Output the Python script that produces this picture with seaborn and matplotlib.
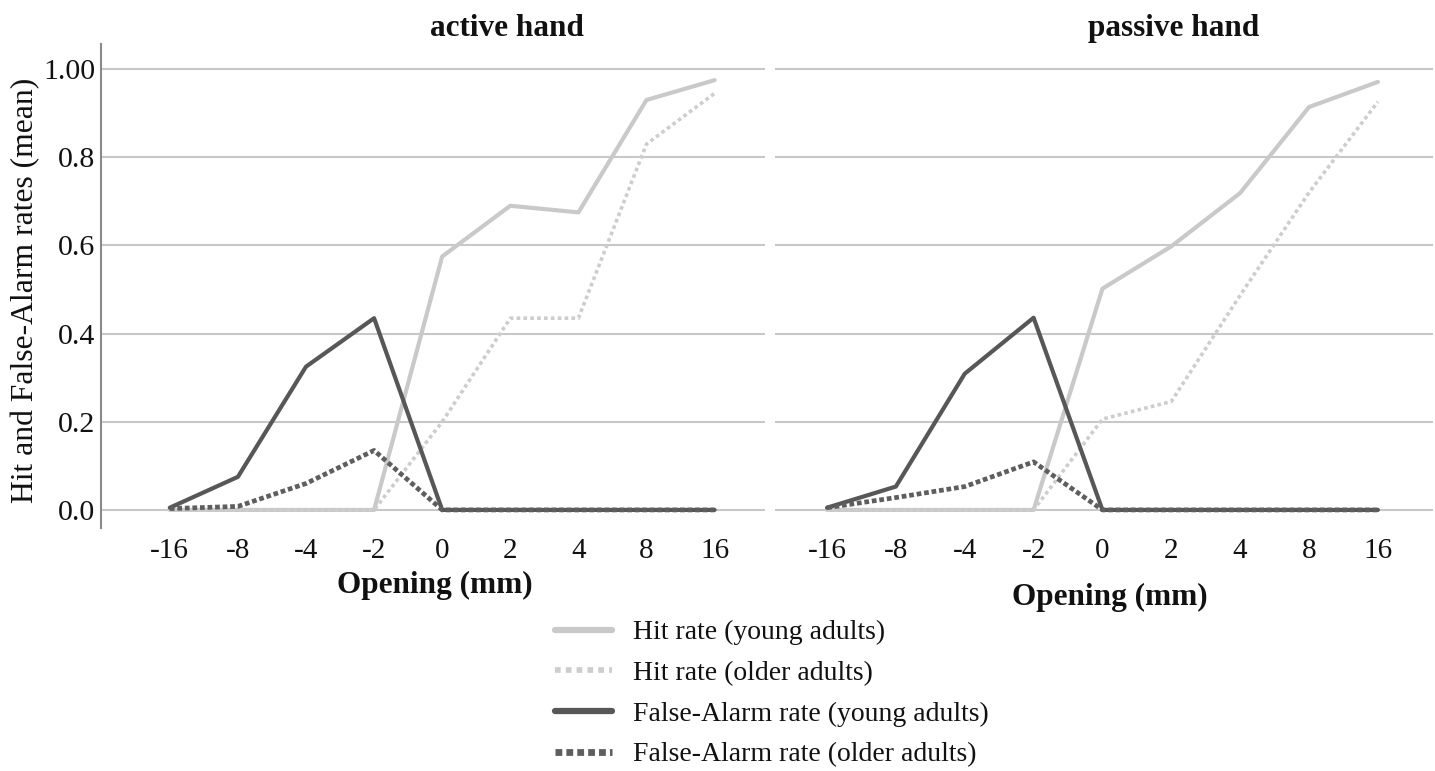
import numpy as np
import pandas as pd
import matplotlib
matplotlib.use("Agg")
import matplotlib.pyplot as plt
import seaborn as sns
from matplotlib.lines import Line2D

openings = ["-16", "-8", "-4", "-2", "0", "2", "4", "8", "16"]
panels = ["active hand", "passive hand"]

active_hit_young = [0.0, 0.0, 0.0, 0.0, 0.575, 0.69, 0.675, 0.93, 0.975]
active_hit_older = [0.0, 0.0, 0.0, 0.0, 0.20, 0.435, 0.435, 0.83, 0.945]
active_fa_young = [0.005, 0.075, 0.325, 0.435, 0.0, 0.0, 0.0, 0.0, 0.0]
active_fa_older = [0.003, 0.008, 0.06, 0.135, 0.0, 0.0, 0.0, 0.0, 0.0]

passive_hit_young = [0.0, 0.0, 0.0, 0.0, 0.502, 0.598, 0.719, 0.914, 0.971]
passive_hit_older = [0.0, 0.0, 0.0, 0.0, 0.206, 0.246, 0.487, 0.72, 0.926]
passive_fa_young = [0.005, 0.053, 0.309, 0.436, 0.0, 0.0, 0.0, 0.0, 0.0]
passive_fa_older = [0.005, 0.028, 0.053, 0.109, 0.0, 0.0, 0.0, 0.0, 0.0]

series_names = ["Hit rate (young adults)", "Hit rate (older adults)",
                "False-Alarm rate (young adults)", "False-Alarm rate (older adults)"]

sns.set_theme(style="white")
plt.rcParams["font.family"] = ["Liberation Serif", "DejaVu Serif"]
plt.rcParams["text.color"] = "#111111"
plt.rcParams["axes.labelcolor"] = "#111111"
plt.rcParams["xtick.color"] = "#111111"
plt.rcParams["ytick.color"] = "#111111"

styles = {
    series_names[0]: dict(color="#c9c9c9", lw=3.0, ls="-"),
    series_names[1]: dict(color="#cdcdcd", lw=2.6, ls=(0, (1.0, 0.9))),
    series_names[2]: dict(color="#575757", lw=3.0, ls="-"),
    series_names[3]: dict(color="#5e5e5e", lw=3.4, ls=(0, (1.0, 0.6))),
}

data = {
    panels[0]: [active_hit_young, active_hit_older, active_fa_young, active_fa_older],
    panels[1]: [passive_hit_young, passive_hit_older, passive_fa_young, passive_fa_older],
}

fig = plt.figure(figsize=(14.35, 7.71), dpi=100)
W, H = 1435, 771
ax1 = fig.add_axes([101 / W, 1 - 528 / H, 664 / W, (528 - 44) / H])
ax2 = fig.add_axes([775 / W, 1 - 528 / H, 658 / W, (528 - 44) / H])

xpos = np.arange(len(openings))
for ax, panel, xlim, tx in [(ax1, panels[0], (-1.01, 8.74), (507 - 101) / 664),
                            (ax2, panels[1], (-0.755, 8.80), (1174 - 775) / 658)]:
    for yv in [0.0, 0.2, 0.4, 0.6, 0.8, 1.0]:
        ax.axhline(yv, color="#c8c8c8", lw=1.5, zorder=0)
    for name, vals in zip(series_names, data[panel]):
        df = pd.DataFrame({"x": xpos, "y": vals})
        st = styles[name]
        sns.lineplot(data=df, x="x", y="y", ax=ax, color=st["color"],
                     linewidth=st["lw"], linestyle=st["ls"], zorder=3)
    ax.set_xlim(*xlim)
    ax.set_ylim(-0.041, 1.057)
    ax.set_xticks(xpos)
    ax.set_xticklabels(openings, fontsize=21)
    ax.tick_params(axis="x", length=0, pad=7)
    ax.tick_params(axis="y", length=0, pad=4)
    ax.set_title(panel, fontsize=22.5, fontweight="bold", x=tx, y=1.0, pad=6)
    for s in ["top", "right", "bottom"]:
        ax.spines[s].set_visible(False)
    ax.grid(False)

ax1.set_yticks([0.0, 0.2, 0.4, 0.6, 0.8, 1.0])
ax1.set_yticklabels(["0.0", "0.2", "0.4", "0.6", "0.8", "1.00"], fontsize=21.5)
ax1.spines["left"].set_color("#8a8a8a")
ax1.spines["left"].set_linewidth(1.5)
ax1.set_ylabel("Hit and False-Alarm rates (mean)", fontsize=22.8)
ax1.yaxis.label.set_va("center")
ax1.yaxis.set_label_coords((26 - 101) / 664, (528 - 290) / 484)
ax1.set_xlabel("Opening (mm)", fontsize=22.5, fontweight="bold")
ax1.xaxis.set_label_coords((435 - 101) / 664, -(585 - 528) / 484)
ax1.xaxis.label.set_va("center")

ax2.set_yticks([])
ax2.spines["left"].set_visible(False)
ax2.set_ylabel("")
ax2.set_xlabel("Opening (mm)", fontsize=22.5, fontweight="bold")
ax2.xaxis.set_label_coords((1110 - 775) / 658, -(597 - 528) / 484)
ax2.xaxis.label.set_va("center")

handles = [Line2D([0], [0], color=styles[n]["color"], lw=styles[n]["lw"] + 1.5,
                  ls=styles[n]["ls"]) for n in series_names]
fig.legend(handles, series_names, loc="upper left",
           bbox_to_anchor=(555 / W, 1 - 620 / H), frameon=False,
           fontsize=20, handlelength=2.05, handletextpad=0.75, labelspacing=0.55,
           borderaxespad=0, borderpad=0)

fig.savefig("out.png", dpi=100)
